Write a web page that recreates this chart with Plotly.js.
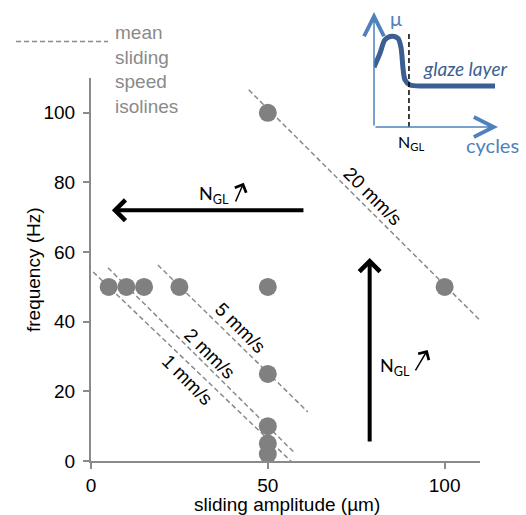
<!DOCTYPE html>
<html><head><meta charset="utf-8">
<script src="https://cdn.plot.ly/plotly-3.0.1.min.js"></script>
<style>body{margin:0;padding:0;background:#fff}#chart{width:526px;height:515px}</style>
</head><body><div id="chart"></div>
<script>
// ---- data ----
const amplitude = [5, 10, 15, 25, 50, 50, 50, 50, 50, 50, 100];
const frequency = [50, 50, 50, 50, 50, 100, 25, 10, 5, 2, 50];

const isoLabels = ['1 mm/s', '2 mm/s', '5 mm/s', '20 mm/s'];
const isoAmpStart = [0.6, 4.8, 18.9, 44.6];
const isoFreqStart = [54.3, 55.5, 56.3, 106.6];
const isoAmpEnd = [57.1, 57.6, 61.3, 111.9];
const isoFreqEnd = [-0.6, 2.3, 14.1, 38.5];
const isoLabelAmp = [27.1, 33.6, 42.1, 79.7];
const isoLabelFreq = [23.3, 31.0, 38.2, 75.9];

const xTicks = [0, 50, 100];
const yTicks = [0, 20, 40, 60, 80, 100];

// inset schematic: friction vs cycles
const insetCycles = [0, 0.48, 0.89, 1.45, 1.94, 2.18, 2.34, 2.5, 2.9, 4.27, 9.76];
const insetMu = [5.2, 6.4, 7.6, 7.9, 7.7, 6.9, 5.1, 4.1, 3.65, 3.57, 3.57];
const insetNGL = 2.82;

// ---- styles ----
const FONT = 'Liberation Sans, Arial, sans-serif';
const FONT2 = 'Lato, Noto Sans, sans-serif';
const GRAY = '#8a8a8a';
const W = 526, H = 515;
const px = v => v / W, py = v => 1 - v / H;

const traces = [];
for (let i = 0; i < isoLabels.length; i++) {
  traces.push({
    x: [isoAmpStart[i], isoAmpEnd[i]], y: [isoFreqStart[i], isoFreqEnd[i]],
    mode: 'lines', type: 'scatter', xaxis: 'x', yaxis: 'y',
    line: {color: GRAY, width: 1.5, dash: '5px,3px'}, hoverinfo: 'skip', showlegend: false
  });
}
traces.push({
  x: amplitude, y: frequency, mode: 'markers', type: 'scatter',
  marker: {size: 18, color: '#808080'}, cliponaxis: false, showlegend: false
});
traces.push({
  x: insetCycles, y: insetMu, mode: 'lines', type: 'scatter', xaxis: 'x2', yaxis: 'y2',
  line: {color: '#3b5f92', width: 5, shape: 'spline', smoothing: 0.8}, showlegend: false
});
traces.push({
  x: [insetNGL, insetNGL], y: [0, 8.2], mode: 'lines', type: 'scatter', xaxis: 'x2', yaxis: 'y2',
  line: {color: '#000', width: 1.5, dash: '5px,3px'}, showlegend: false
});

const annotations = [];
for (let i = 0; i < isoLabels.length; i++) {
  annotations.push({x: isoLabelAmp[i], y: isoLabelFreq[i], xref: 'x', yref: 'y', text: isoLabels[i],
    showarrow: false, textangle: 45, font: {family: FONT, size: 19, color: '#000'}});
}
// big arrows
annotations.push({x: 5.9, y: 72, ax: 60.5, ay: 72, xref: 'x', yref: 'y', axref: 'x', ayref: 'y', text: '',
  showarrow: true, arrowhead: 4, arrowsize: 1, arrowwidth: 4, arrowcolor: '#000'});
annotations.push({x: 78.8, y: 58.3, ax: 78.8, ay: 5.2, xref: 'x', yref: 'y', axref: 'x', ayref: 'y', text: '',
  showarrow: true, arrowhead: 4, arrowsize: 1, arrowwidth: 4, arrowcolor: '#000'});
// N_GL labels with small arrows
annotations.push({x: 34.7, y: 76.4, xref: 'x', yref: 'y', text: 'N<sub>GL</sub>', showarrow: false,
  font: {family: FONT2, size: 18, color: '#000'}});
annotations.push({x: 43.2, y: 79.9, ax: 40.7, ay: 74.1, xref: 'x', yref: 'y', axref: 'x', ayref: 'y', text: '',
  showarrow: true, arrowhead: 4, arrowsize: 1.6, arrowwidth: 1.5, arrowcolor: '#000'});
annotations.push({x: 85.9, y: 27.2, xref: 'x', yref: 'y', text: 'N<sub>GL</sub>', showarrow: false,
  font: {family: FONT2, size: 18, color: '#000'}});
annotations.push({x: 95.2, y: 31.9, ax: 91.5, ay: 25.6, xref: 'x', yref: 'y', axref: 'x', ayref: 'y', text: '',
  showarrow: true, arrowhead: 4, arrowsize: 1.6, arrowwidth: 1.5, arrowcolor: '#000'});
// axis titles
annotations.push({x: px(287), y: py(504), xref: 'paper', yref: 'paper', xanchor: 'center', yanchor: 'middle',
  text: 'sliding amplitude (µm)', showarrow: false, font: {family: FONT, size: 19, color: '#000'}});
annotations.push({x: px(33), y: py(270), xref: 'paper', yref: 'paper', xanchor: 'center', yanchor: 'middle',
  text: 'frequency (Hz)', textangle: -90, showarrow: false, font: {family: FONT, size: 19, color: '#000'}});
// legend text
annotations.push({x: px(113), y: py(20), xref: 'paper', yref: 'paper', xanchor: 'left', yanchor: 'top', align: 'left',
  text: 'mean<br>sliding<br>speed<br>isolines', showarrow: false, font: {family: FONT, size: 19, color: GRAY}});
// inset axes arrows and labels
const BLUE = '#4f81bd';
annotations.push({x: 10, y: 0, ax: 0, ay: 0, xref: 'x2', yref: 'y2', axref: 'x2', ayref: 'y2', text: '',
  showarrow: true, arrowhead: 5, arrowsize: 2.6, arrowwidth: 1.5, arrowcolor: BLUE});
annotations.push({x: 0, y: 10, ax: 0, ay: 0, xref: 'x2', yref: 'y2', axref: 'x2', ayref: 'y2', text: '',
  showarrow: true, arrowhead: 5, arrowsize: 2.6, arrowwidth: 1.5, arrowcolor: BLUE});
annotations.push({x: 1.8, y: 9.5, xref: 'x2', yref: 'y2', text: 'μ', showarrow: false,
  font: {family: FONT2, size: 20, color: BLUE}});
annotations.push({x: px(492), y: py(145), xref: 'paper', yref: 'paper', xanchor: 'center', yanchor: 'middle',
  text: 'cycles', showarrow: false, font: {family: FONT2, size: 20, color: BLUE}});
annotations.push({x: 7.4, y: 5.1, xref: 'x2', yref: 'y2', text: '<i>glaze layer</i>', showarrow: false,
  font: {family: FONT2, size: 19, color: '#3b5f92'}});
annotations.push({x: px(411), y: py(143), xref: 'paper', yref: 'paper', xanchor: 'center', yanchor: 'middle',
  text: 'N<sub>GL</sub>', showarrow: false, font: {family: FONT2, size: 16, color: '#000'}});

const layout = {
  width: W, height: H, margin: {l: 0, r: 0, t: 0, b: 0, autoexpand: false},
  paper_bgcolor: '#fff', plot_bgcolor: 'rgba(0,0,0,0)', showlegend: false,
  xaxis: {domain: [px(91), px(480)], range: [0, 110], tickvals: xTicks, ticks: 'outside', ticklen: 6, tickwidth: 2,
    tickcolor: GRAY, showline: true, linecolor: GRAY, linewidth: 2, showgrid: false, zeroline: false,
    tickfont: {family: FONT, size: 19, color: '#000'}, automargin: false},
  yaxis: {domain: [1 - 461 / H, 1 - 78 / H], range: [0, 110], tickvals: yTicks, ticks: 'outside', ticklen: 6, tickwidth: 2,
    tickcolor: GRAY, showline: true, linecolor: GRAY, linewidth: 2, showgrid: false, zeroline: false,
    ticklabelstandoff: 4,
    tickfont: {family: FONT, size: 19, color: '#000'}, automargin: false},
  xaxis2: {domain: [px(374), px(498)], range: [0, 10], anchor: 'y2', showline: false, showgrid: false,
    zeroline: false, showticklabels: false, ticks: ''},
  yaxis2: {domain: [1 - 127 / H, 1 - 12 / H], range: [0, 10], anchor: 'x2', showline: false, showgrid: false,
    zeroline: false, showticklabels: false, ticks: ''},
  shapes: [{type: 'line', xref: 'paper', yref: 'paper', x0: px(16), x1: px(108), y0: py(41.5), y1: py(41.5),
    line: {color: GRAY, width: 1.5, dash: '5px,3px'}}],
  annotations: annotations
};
Plotly.newPlot('chart', traces, layout, {displayModeBar: false, staticPlot: true});
</script></body></html>
